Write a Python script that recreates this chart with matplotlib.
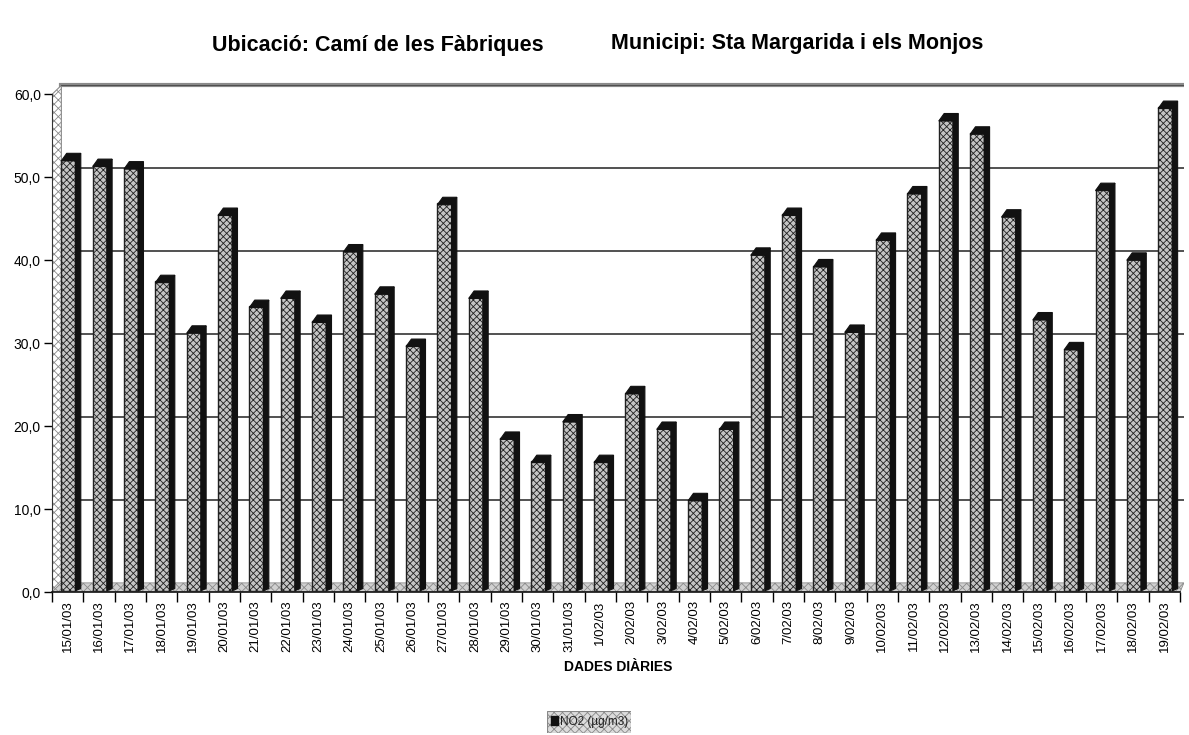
import numpy as np
import matplotlib.pyplot as plt
from matplotlib.patches import Polygon, Rectangle

plt.rcParams['font.family'] = ['Liberation Sans', 'DejaVu Sans']
plt.rcParams['hatch.linewidth'] = 0.6

dates = ['15/01/03', '16/01/03', '17/01/03', '18/01/03', '19/01/03', '20/01/03',
         '21/01/03', '22/01/03', '23/01/03', '24/01/03', '25/01/03', '26/01/03',
         '27/01/03', '28/01/03', '29/01/03', '30/01/03', '31/01/03', '1/02/03',
         '2/02/03', '3/02/03', '4/02/03', '5/02/03', '6/02/03', '7/02/03',
         '8/02/03', '9/02/03', '10/02/03', '11/02/03', '12/02/03', '13/02/03',
         '14/02/03', '15/02/03', '16/02/03', '17/02/03', '18/02/03', '19/02/03']
no2 = [52.0, 51.3, 51.0, 37.3, 31.2, 45.4, 34.3, 35.4, 32.5, 41.0, 35.9, 29.6,
       46.7, 35.4, 18.4, 15.6, 20.5, 15.6, 23.9, 19.6, 11.0, 19.6, 40.6, 45.4,
       39.2, 31.3, 42.4, 48.0, 56.8, 55.2, 45.2, 32.8, 29.2, 48.4, 40.0, 58.3]
yticks = [0, 10, 20, 30, 40, 50, 60]
ytick_labels = ['0,0', '10,0', '20,0', '30,0', '40,0', '50,0', '60,0']

fig = plt.figure(figsize=(11.89, 7.35), dpi=100)
n = len(dates)
ax = fig.add_axes([0.0437, 1 - 592 / 735, 0.952, 510 / 735])
xmin, xmax = -0.5, n - 0.5
ax.set_xlim(xmin, xmax + 0.12)
ax.set_ylim(0, 61.5)

# 3D depth
wdx, wdy = 0.3, 1.1
bdx, bdy = 0.17, 0.9
hatch_gray = '#8a8a8a'

# back wall gridlines
for v in yticks[1:-1]:
    ax.plot([xmin + wdx, xmax + 0.12], [v + wdy, v + wdy], color='#222222', lw=1.1, zorder=1)
    ax.plot([xmin, xmin + wdx], [v, v + wdy], color='#222222', lw=1.0, zorder=1)

# left wall and top border
ax.add_patch(Polygon([(xmin, 0), (xmin + wdx, wdy), (xmin + wdx, 60 + wdy), (xmin, 60)],
                     closed=True, facecolor='white', edgecolor=hatch_gray, hatch='xxxx',
                     lw=0.8, zorder=1))
ax.plot([xmin + wdx, xmax + 0.12], [60 + wdy, 60 + wdy], color=hatch_gray, lw=3.0, zorder=1)
ax.plot([xmin + wdx, xmax + 0.12], [60 + wdy, 60 + wdy], color='#444444', lw=0.6, zorder=1)

# floor
ax.add_patch(Polygon([(xmin, 0), (xmax, 0), (xmax + wdx * 0.4, wdy), (xmin + wdx, wdy)],
                     closed=True, facecolor='#d0d0d0', edgecolor=hatch_gray, hatch='xxxx',
                     lw=0.6, zorder=2))

# bars
xs = np.arange(n)
left_off, face_w = -0.2, 0.45
ax.bar(xs + left_off, no2, width=face_w, align='edge', bottom=0.15,
       facecolor='#c4c4c4', edgecolor='#222222', hatch='xxxxx', lw=1.0, zorder=3)
for xi, v in zip(xs, no2):
    r = xi + left_off + face_w
    ax.add_patch(Polygon([(r, 0.15), (r + bdx, 0.15 + bdy * 0.3), (r + bdx, v + bdy), (r, v)],
                         closed=True, facecolor='#111111', edgecolor='#111111', lw=0.8, zorder=3))
    l = xi + left_off
    ax.add_patch(Polygon([(l, v), (r, v), (r + bdx, v + bdy), (l + bdx, v + bdy)],
                         closed=True, facecolor='#111111', edgecolor='#111111', lw=0.8, zorder=4))

# axes styling
for s in ['top', 'right']:
    ax.spines[s].set_visible(False)
ax.spines['left'].set_color('#333333')
ax.spines['bottom'].set_color('#111111')
ax.spines['bottom'].set_linewidth(1.2)
ax.spines['bottom'].set_bounds(xmin, xmax)
ax.spines['left'].set_bounds(0, 60)
ax.set_yticks(yticks)
ax.set_yticklabels(ytick_labels, fontsize=10)
ax.tick_params(axis='y', length=6, width=1.0, pad=2)
ax.set_xticks(xs)
ax.set_xticklabels(dates, rotation=90, fontsize=9.5)
ax.set_xticks(np.arange(n + 1) - 0.5, minor=True)
ax.tick_params(axis='x', which='major', length=0, pad=6)
ax.tick_params(axis='x', which='minor', length=7, width=1.0)
ax.set_xlabel('DADES DIÀRIES', fontsize=10, fontweight='bold', labelpad=6)

fig.text(378 / 1189, 1 - 45 / 735, 'Ubicació: Camí de les Fàbriques', ha='center', va='center',
         fontsize=15.5, fontweight='bold')
fig.text(797 / 1189, 1 - 43 / 735, 'Municipi: Sta Margarida i els Monjos', ha='center', va='center',
         fontsize=15.5, fontweight='bold')

# legend box
lax = fig.add_axes([547 / 1189, 1 - 733 / 735, 84 / 1189, 22 / 735])
lax.set_xlim(0, 1)
lax.set_ylim(0, 1)
lax.axis('off')
lax.add_patch(Rectangle((0, 0), 1, 1, facecolor='#dcdcdc', edgecolor='#888888', hatch='xxxx', lw=0.8))
lax.add_patch(Rectangle((0.05, 0.35), 0.08, 0.42, facecolor='#111111', edgecolor='#111111'))
lax.text(0.16, 0.5, 'NO2 (µg/m3)', fontsize=8.5, va='center', ha='left', color='#222222')

fig.savefig('out.png', dpi=100)
